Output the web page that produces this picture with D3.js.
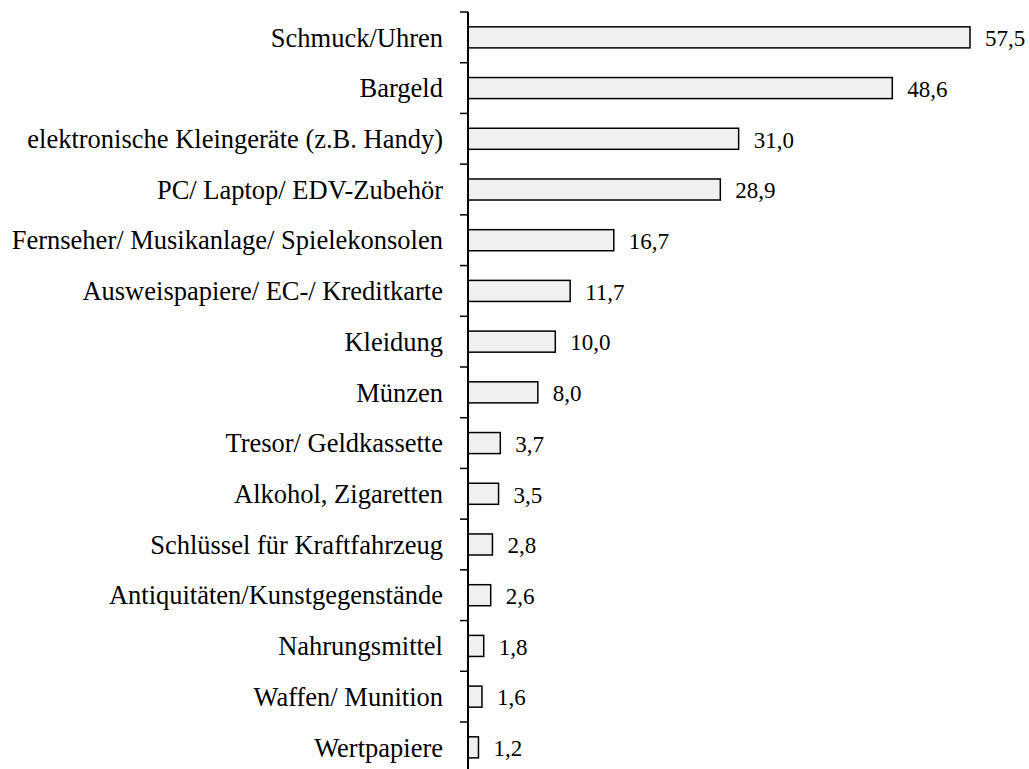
<!DOCTYPE html>
<html>
<head>
<meta charset="utf-8">
<script src="https://cdn.jsdelivr.net/npm/d3@7"></script>
<style>
  body { margin: 0; background: #fff; }
  svg { display: block; }
  text { font-family: "Liberation Serif", "Times New Roman", serif; fill: #000; }
  .cat { font-size: 26.5px; }
  .val { font-size: 23px; }
</style>
</head>
<body>
<script>
const width = 1029;
const height = 769;

const categories = [
    "Schmuck/Uhren",
    "Bargeld",
    "elektronische Kleingeräte (z.B. Handy)",
    "PC/ Laptop/ EDV-Zubehör",
    "Fernseher/ Musikanlage/ Spielekonsolen",
    "Ausweispapiere/ EC-/ Kreditkarte",
    "Kleidung",
    "Münzen",
    "Tresor/ Geldkassette",
    "Alkohol, Zigaretten",
    "Schlüssel für Kraftfahrzeug",
    "Antiquitäten/Kunstgegenstände",
    "Nahrungsmittel",
    "Waffen/ Munition",
    "Wertpapiere"
];
const values = [57.5, 48.6, 31.0, 28.9, 16.7, 11.7, 10.0, 8.0, 3.7, 3.5, 2.8, 2.6, 1.8, 1.6, 1.2];

const axisX = 468;
const plotTop = 12;
const plotBottom = 772.7;

const x = d3.scaleLinear().domain([0, 57.5]).range([axisX, 970]);
const y = d3.scaleBand().domain(categories).range([plotTop, plotBottom])
    .paddingInner(0.585).paddingOuter(0.2925);

const fmt = v => d3.format(".1f")(v).replace(".", ",");

const svg = d3.select(document.body).append("svg")
    .attr("width", width)
    .attr("height", height);

const data = categories.map((c, i) => ({ name: c, value: values[i] }));

// bars
svg.append("g")
    .selectAll("rect")
    .data(data)
    .join("rect")
    .attr("x", axisX)
    .attr("y", d => y(d.name))
    .attr("width", d => x(d.value) - axisX)
    .attr("height", y.bandwidth())
    .attr("fill", "#f0f0f0")
    .attr("stroke", "#000")
    .attr("stroke-width", 1.5);

// value labels
svg.append("g")
    .selectAll("text")
    .data(data)
    .join("text")
    .attr("class", "val")
    .attr("x", d => x(d.value) + 15)
    .attr("y", d => y(d.name) + y.bandwidth() / 2)
    .attr("dy", "0.38em")
    .text(d => fmt(d.value));

// category labels
svg.append("g")
    .selectAll("text")
    .data(data)
    .join("text")
    .attr("class", "cat")
    .attr("x", 443)
    .attr("y", d => y(d.name) + y.bandwidth() / 2)
    .attr("dy", "0.35em")
    .attr("text-anchor", "end")
    .text(d => d.name);

// axis line + ticks between categories
const step = y.step();
const tickPos = d3.range(categories.length + 1).map(i => plotTop + i * step);
const ax = svg.append("g").attr("stroke", "#000");
ax.append("line")
    .attr("x1", axisX).attr("x2", axisX)
    .attr("y1", plotTop).attr("y2", plotBottom)
    .attr("stroke-width", 2);
ax.selectAll("line.tick")
    .data(tickPos)
    .join("line")
    .attr("class", "tick")
    .attr("x1", axisX - 8).attr("x2", axisX)
    .attr("y1", d => d).attr("y2", d => d)
    .attr("stroke-width", 1.5);
</script>
</body>
</html>
